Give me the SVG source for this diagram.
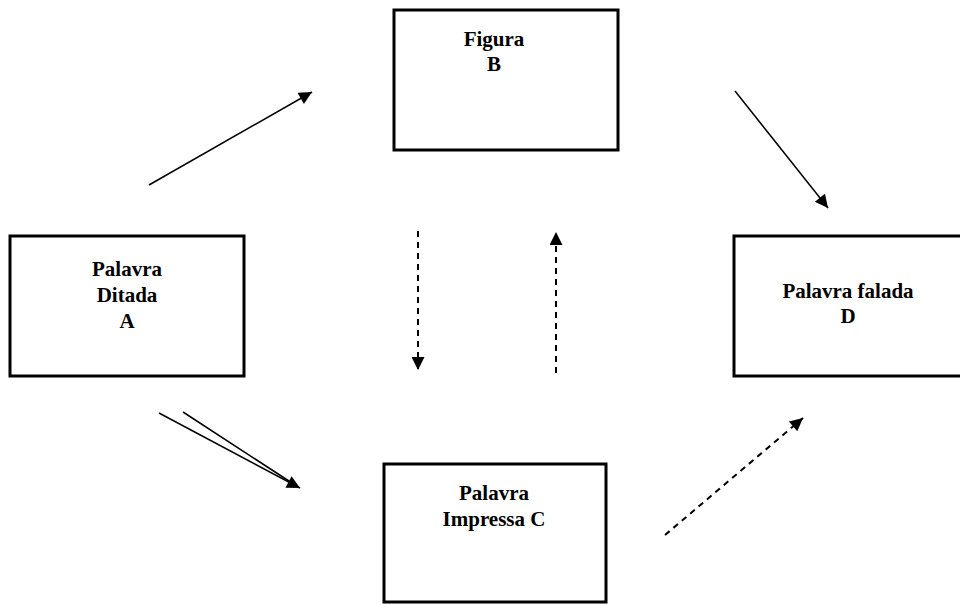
<svg xmlns="http://www.w3.org/2000/svg" width="960" height="605" viewBox="0 0 960 605">
<style>
.box{fill:#fff;stroke:#000;stroke-width:3}
.t{font-family:"Liberation Serif","Times New Roman",serif;font-weight:bold;font-size:21px;text-anchor:middle;fill:#000}
.s{stroke:#000;stroke-width:1.5;fill:none}
.d{stroke:#000;stroke-width:2;fill:none;stroke-dasharray:6 5}
</style>
<defs>
<marker id="ah" viewBox="0 0 10 10" refX="10" refY="5" markerWidth="16" markerHeight="13" markerUnits="userSpaceOnUse" orient="auto">
<path d="M0,0 L10,5 L0,10 z" fill="#000"/>
</marker>
</defs>
<rect width="960" height="605" fill="#fff"/>
<g id="nodeB"><rect class="box" x="394" y="10" width="224" height="140"/><text class="t" x="494" y="46">Figura</text><text class="t" x="494" y="71">B</text></g>
<g id="nodeA"><rect class="box" x="10" y="236" width="234" height="140"/><text class="t" x="127" y="276">Palavra</text><text class="t" x="127" y="302">Ditada</text><text class="t" x="127" y="328">A</text></g>
<g id="nodeD"><rect class="box" x="734" y="236" width="240" height="140"/><text class="t" x="848" y="298">Palavra falada</text><text class="t" x="848" y="323">D</text></g>
<g id="nodeC"><rect class="box" x="384" y="464" width="222" height="138"/><text class="t" x="494" y="500">Palavra</text><text class="t" x="494" y="526">Impressa C</text></g>
<g id="connectors">
<line class="s" x1="149" y1="185" x2="312" y2="92" marker-end="url(#ah)"/>
<line class="s" x1="735" y1="91" x2="828" y2="208" marker-end="url(#ah)"/>
<line class="d" x1="418" y1="231" x2="418" y2="370" marker-end="url(#ah)"/>
<line class="d" x1="556" y1="373" x2="556" y2="232" marker-end="url(#ah)"/>
<line class="d" x1="665" y1="535" x2="803" y2="418" marker-end="url(#ah)"/>
<line class="s" x1="159" y1="413" x2="300" y2="488" marker-end="url(#ah)"/>
<line class="s" x1="183" y1="412" x2="292" y2="483"/>
</g>
</svg>
